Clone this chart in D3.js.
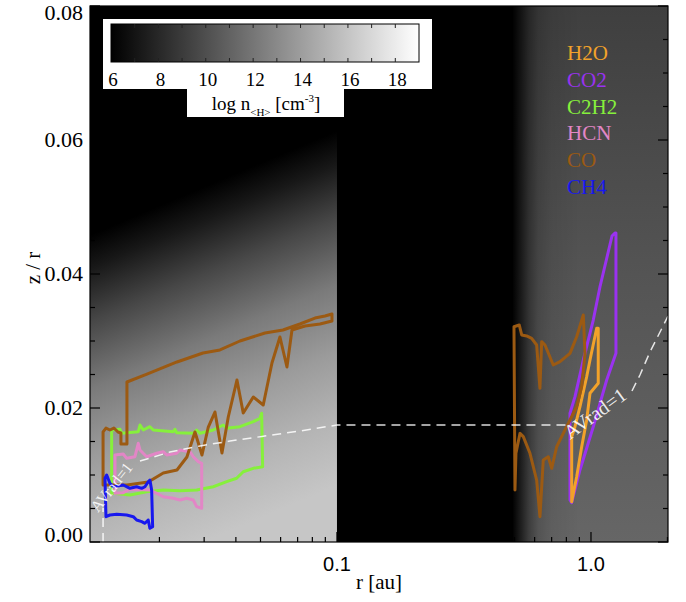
<!DOCTYPE html>
<html>
<head>
<meta charset="utf-8">
<script src="https://cdn.jsdelivr.net/npm/d3@7"></script>
<style>
  html, body { margin: 0; padding: 0; background: #fff; }
  svg { display: block; }
  text { font-family: "Liberation Serif", "Times New Roman", serif; }
</style>
</head>
<body>
<div id="chart"></div>
<script>
// ---------- data ----------
const rDomain = [0.01066, 2.01];          // r [au]
const zDomain = [0, 0.08];                // z / r
const xMajorTicks = [0.1, 1.0];
const xTickLabels = ['0.1', '1.0'];
const xMinorTicks = [0.02, 0.03, 0.04, 0.05, 0.06, 0.07, 0.08, 0.09,
                     0.2, 0.3, 0.4, 0.5, 0.6, 0.7, 0.8, 0.9, 2];
const yMajorTicks = [0, 0.02, 0.04, 0.06, 0.08];
const yTickLabels = ['0.00', '0.02', '0.04', '0.06', '0.08'];
const yMinorTicks = [0.005, 0.01, 0.015, 0.025, 0.03, 0.035, 0.045, 0.05,
                     0.055, 0.065, 0.07, 0.075];

// colour bar (log n<H>)
const cbDomain = [6, 19];
const cbLabels = [6, 8, 10, 12, 14, 16, 18];
const cbMinor = [7, 8, 9, 10, 11, 12, 13, 14, 15, 16, 17, 18];

// density map: inner disk (r < 0.1 au)
const innerEdgeR = 0.1;
const innerZ    = [0.053, 0.048, 0.04, 0.03, 0.02, 0.01, 0];
const innerLogN = [6,     7.2,   9.6,  12.2, 13.9, 15.2, 16.1];
const isoRefR = 0.03;      // r where innerZ was read
const isoSlope = 0.016;    // tilt of iso-density lines, z/r per decade of r
// density map: outer disk
const outerR    = [0.49, 0.53, 0.57, 0.62, 0.70, 0.90];
const outerFade = [0,    0.30, 0.60, 0.82, 0.93, 1];
const outerZ    = [0.08, 0.04, 0];
const outerLogN = [9.2,  10.3, 11.2];

// species
const species = ['H2O', 'CO2', 'C2H2', 'HCN', 'CO', 'CH4'];
const speciesColors = ['#f2a22a', '#9a32f0', '#86f03c', '#e286c6', '#9c5a12', '#1818ee'];

// emitting regions [r (au), z/r]
const co2Region = [[1.210, 0.04567], [1.085, 0.0381], [1.021, 0.03313], [0.9326, 0.02716],
  [0.865, 0.02169], [0.8267, 0.01921], [0.8267, 0.00627], [0.8395, 0.00587], [0.905, 0.01075],
  [1.021, 0.01721], [1.153, 0.02418], [1.254, 0.02816], [1.254, 0.04612], [1.243, 0.04612]];
const h2oRegion = [[1.053, 0.0319], [1.068, 0.0319], [1.068, 0.02369], [0.991, 0.02219],
  [0.9618, 0.01821], [0.9193, 0.01422], [0.8784, 0.00975], [0.8395, 0.00601], [0.8395, 0.01572],
  [0.865, 0.01721], [0.905, 0.02019], [0.9618, 0.02467], [0.991, 0.02716]];
const c2h2Region = [[0.01297, 0.01672], [0.01399, 0.01682], [0.0142, 0.01622], [0.01651, 0.01646],
  [0.01677, 0.01746], [0.01728, 0.01672], [0.01835, 0.01721], [0.01891, 0.01672], [0.02268, 0.01646],
  [0.02303, 0.01682], [0.02339, 0.01631], [0.02718, 0.01622], [0.02803, 0.01672], [0.02889, 0.01622],
  [0.03258, 0.01672], [0.03568, 0.01746], [0.03679, 0.01697], [0.0415, 0.01721], [0.04683, 0.01796],
  [0.04975, 0.01846], [0.05052, 0.01921], [0.05098, 0.01124], [0.04683, 0.011], [0.04276, 0.01049],
  [0.04028, 0.00951], [0.03679, 0.009], [0.03258, 0.00825], [0.02803, 0.00776], [0.02409, 0.00766],
  [0.02071, 0.00776], [0.01781, 0.00751], [0.01531, 0.00701], [0.01316, 0.00727], [0.01297, 0.00727]];
const hcnRegion = [[0.01337, 0.01299], [0.01441, 0.01313], [0.01486, 0.01249], [0.01602, 0.01273],
  [0.01651, 0.01473], [0.01677, 0.01373], [0.01781, 0.01273], [0.01951, 0.01324], [0.02071, 0.01348],
  [0.02136, 0.01299], [0.02339, 0.01324], [0.02409, 0.01373], [0.02638, 0.01348], [0.02718, 0.01273],
  [0.02844, 0.01199], [0.02934, 0.01175], [0.02934, 0.00503], [0.02803, 0.00527], [0.02718, 0.00627],
  [0.0256, 0.00652], [0.02409, 0.00627], [0.02268, 0.00652], [0.02071, 0.00676], [0.01951, 0.00727],
  [0.01835, 0.00776], [0.01531, 0.00787], [0.01441, 0.00736], [0.01337, 0.00727]];
const coInnerRegion = [[0.0120, 0.01642], [0.01232, 0.01701], [0.01277, 0.01672], [0.01324, 0.01701],
  [0.01374, 0.01642], [0.01411, 0.01627], [0.01411, 0.01463], [0.0149, 0.01463], [0.0149, 0.02388],
  [0.01786, 0.02507], [0.02345, 0.02687], [0.02969, 0.02821], [0.03462, 0.02866], [0.0415, 0.03],
  [0.05206, 0.03119], [0.06129, 0.03164], [0.0715, 0.03254], [0.0819, 0.03343], [0.0897, 0.03373],
  [0.09557, 0.03403], [0.09557, 0.03299], [0.08572, 0.03254], [0.07482, 0.03224], [0.0665, 0.03164],
  [0.06355, 0.02612], [0.05964, 0.0306], [0.05547, 0.02672], [0.05126, 0.02045], [0.04683, 0.02164],
  [0.04276, 0.01925], [0.04039, 0.02418], [0.03733, 0.01866], [0.03526, 0.01328], [0.03309, 0.0194],
  [0.03115, 0.01716], [0.02942, 0.01299], [0.0276, 0.01642], [0.02566, 0.01269], [0.02345, 0.01075],
  [0.02071, 0.0103], [0.01807, 0.00896], [0.0149, 0.00851], [0.0120, 0.00851]];
const coOuterRegion = [[0.4976, 0.03213], [0.5221, 0.03239], [0.5337, 0.0309], [0.5584, 0.03075],
  [0.5842, 0.0304], [0.6112, 0.0294], [0.6297, 0.02294], [0.6396, 0.0299], [0.659, 0.0294],
  [0.7105, 0.02642], [0.7551, 0.02691], [0.8267, 0.02816], [0.8784, 0.03064], [0.9326, 0.03388],
  [0.9471, 0.02816], [0.9193, 0.02318], [0.8784, 0.02019], [0.8267, 0.01821], [0.778, 0.01622],
  [0.7328, 0.01422], [0.7003, 0.011], [0.679, 0.01273], [0.6489, 0.01224], [0.6297, 0.00378],
  [0.6112, 0.00925], [0.5753, 0.01324], [0.5415, 0.01572], [0.5255, 0.01622], [0.5067, 0.01324],
  [0.5021, 0.00776]];
const ch4Region = [[0.01221, 0.00951], [0.0124, 0.01], [0.01277, 0.00876], [0.01316, 0.00825],
  [0.01441, 0.00851], [0.01531, 0.00801], [0.01627, 0.00825], [0.01703, 0.00801], [0.01754, 0.00825],
  [0.01807, 0.009], [0.01835, 0.00925], [0.01864, 0.00776], [0.01881, 0.00228], [0.01835, 0.00204],
  [0.01807, 0.00328], [0.01754, 0.00279], [0.01703, 0.00303], [0.01627, 0.00328], [0.01578, 0.00378],
  [0.01486, 0.00403], [0.01358, 0.00413], [0.01277, 0.00403], [0.01232, 0.00378]];

// AVrad = 1 surface (pieces between the labels)
const avradPieces = [
  [[0.0120, 0], [0.0120, 0.00507]],
  [[0.01677, 0.01209], [0.02201, 0.01343], [0.02889, 0.01433], [0.03791, 0.01507], [0.05066, 0.01575],
   [0.0715, 0.01657], [0.1, 0.01746], [0.8023, 0.01746]],
  [[1.45, 0.02254], [1.559, 0.02493], [1.707, 0.02836], [1.87, 0.03134], [2.01, 0.03373]]
];
const avradLabels = [
  { r: 0.01146, z: 0.00433, angle: -52, size: 16 },
  { r: 0.8267, z: 0.01522, angle: -36, size: 20 }
];

// ---------- drawing ----------
const W = 686, H = 602;
const plot = { left: 90, top: 6, right: 668, bottom: 542 };
const serif = '"Liberation Serif", "Times New Roman", serif';

const x = d3.scaleLog().domain(rDomain).range([plot.left, plot.right]);
const y = d3.scaleLinear().domain(zDomain).range([plot.bottom, plot.top]);
const gray = d3.scaleLinear().domain(cbDomain).range(['#000', '#fff']).clamp(true);

const svg = d3.select('#chart').append('svg').attr('width', W).attr('height', H);
const defs = svg.append('defs');

defs.append('clipPath').attr('id', 'plotClip')
  .append('rect')
    .attr('x', plot.left).attr('y', plot.top)
    .attr('width', plot.right - plot.left).attr('height', plot.bottom - plot.top);

// inner disk gradient, tilted along the iso-density lines
const x0 = x(isoRefR), yTop = y(innerZ[0]), yBot = y(0);
const kPix = (y(0) - y(isoSlope)) / (x(10) - x(1));
const nrm = Math.hypot(kPix, 1);
const nx = kPix / nrm, ny = 1 / nrm;
const L = (yBot - yTop) * ny;
const innerGrad = defs.append('linearGradient').attr('id', 'innerGrad')
  .attr('gradientUnits', 'userSpaceOnUse')
  .attr('x1', x0).attr('y1', yTop)
  .attr('x2', x0 + nx * L).attr('y2', yTop + ny * L);
innerZ.forEach((z, i) => {
  innerGrad.append('stop')
    .attr('offset', (y(z) - yTop) / (yBot - yTop))
    .attr('stop-color', gray(innerLogN[i]));
});

// outer disk: vertical gradient, faded in from the gap
const outerGrad = defs.append('linearGradient').attr('id', 'outerGrad')
  .attr('gradientUnits', 'userSpaceOnUse')
  .attr('x1', 0).attr('y1', y(outerZ[0])).attr('x2', 0).attr('y2', y(outerZ[outerZ.length - 1]));
outerZ.forEach((z, i) => {
  outerGrad.append('stop')
    .attr('offset', (y(z) - y(outerZ[0])) / (y(outerZ[outerZ.length - 1]) - y(outerZ[0])))
    .attr('stop-color', gray(outerLogN[i]));
});
const fx0 = x(outerR[0]), fx1 = x(outerR[outerR.length - 1]);
const fadeGrad = defs.append('linearGradient').attr('id', 'fadeGrad')
  .attr('gradientUnits', 'userSpaceOnUse')
  .attr('x1', fx0).attr('y1', 0).attr('x2', fx1).attr('y2', 0);
outerR.forEach((r, i) => {
  const v = Math.round(255 * outerFade[i]);
  fadeGrad.append('stop')
    .attr('offset', (x(r) - fx0) / (fx1 - fx0))
    .attr('stop-color', `rgb(${v},${v},${v})`);
});
defs.append('mask').attr('id', 'outerMask')
  .attr('maskUnits', 'userSpaceOnUse')
  .attr('x', 0).attr('y', 0).attr('width', W).attr('height', H)
  .append('rect')
    .attr('x', fx0).attr('y', plot.top)
    .attr('width', plot.right - fx0).attr('height', plot.bottom - plot.top)
    .attr('fill', 'url(#fadeGrad)');

// colour bar gradient
const cbGrad = defs.append('linearGradient').attr('id', 'cbGrad');
cbGrad.append('stop').attr('offset', 0).attr('stop-color', gray(cbDomain[0]));
cbGrad.append('stop').attr('offset', 1).attr('stop-color', gray(cbDomain[1]));

// background map
const bg = svg.append('g').attr('clip-path', 'url(#plotClip)');
bg.append('rect')
  .attr('x', plot.left).attr('y', plot.top)
  .attr('width', plot.right - plot.left).attr('height', plot.bottom - plot.top)
  .attr('fill', '#000');
bg.append('rect')
  .attr('x', x(rDomain[0])).attr('y', y(zDomain[1]))
  .attr('width', x(innerEdgeR) - x(rDomain[0])).attr('height', y(0) - y(zDomain[1]))
  .attr('fill', 'url(#innerGrad)');
bg.append('rect')
  .attr('x', fx0).attr('y', y(zDomain[1]))
  .attr('width', x(rDomain[1]) - fx0).attr('height', y(0) - y(zDomain[1]))
  .attr('fill', 'url(#outerGrad)')
  .attr('mask', 'url(#outerMask)');

// emitting regions
const line = d3.line().x(d => x(d[0])).y(d => y(d[1]));
const regions = [
  { pts: co2Region, c: speciesColors[1] },
  { pts: h2oRegion, c: speciesColors[0] },
  { pts: c2h2Region, c: speciesColors[2] },
  { pts: hcnRegion, c: speciesColors[3] },
  { pts: coInnerRegion, c: speciesColors[4] },
  { pts: coOuterRegion, c: speciesColors[4] },
  { pts: ch4Region, c: speciesColors[5] }
];
const gReg = svg.append('g').attr('clip-path', 'url(#plotClip)');
gReg.selectAll('path.region')
  .data(regions)
  .enter().append('path')
    .attr('class', 'region')
    .attr('d', d => line(d.pts) + 'Z')
    .attr('fill', 'none')
    .attr('stroke', d => d.c)
    .attr('stroke-width', 3)
    .attr('stroke-linejoin', 'round');

// AVrad = 1
gReg.selectAll('path.avrad')
  .data(avradPieces)
  .enter().append('path')
    .attr('class', 'avrad')
    .attr('d', d => line(d))
    .attr('fill', 'none')
    .attr('stroke', '#fff')
    .attr('stroke-opacity', 0.85)
    .attr('stroke-width', 1.5)
    .attr('stroke-dasharray', '9,6');
gReg.selectAll('text.avlab')
  .data(avradLabels)
  .enter().append('text')
    .attr('class', 'avlab')
    .attr('transform', d => `translate(${x(d.r)},${y(d.z)}) rotate(${d.angle})`)
    .attr('font-size', d => d.size)
    .style('font-family', serif)
    .attr('fill', '#fff')
    .attr('fill-opacity', 0.9)
    .text('AVrad=1');

// frame and ticks
const axes = svg.append('g').attr('stroke', '#000').attr('stroke-width', 1.2);
axes.append('rect')
  .attr('x', plot.left).attr('y', plot.top)
  .attr('width', plot.right - plot.left).attr('height', plot.bottom - plot.top)
  .attr('fill', 'none');
const yTicks = yMajorTicks.map(v => ({ v, len: 10 })).concat(yMinorTicks.map(v => ({ v, len: 5 })));
axes.selectAll('line.yl').data(yTicks).enter().append('line')
  .attr('x1', plot.left).attr('x2', d => plot.left + d.len)
  .attr('y1', d => y(d.v)).attr('y2', d => y(d.v));
axes.selectAll('line.yr').data(yTicks).enter().append('line')
  .attr('x1', plot.right).attr('x2', d => plot.right - d.len)
  .attr('y1', d => y(d.v)).attr('y2', d => y(d.v));
const xTicks = xMajorTicks.map(v => ({ v, len: 10 })).concat(xMinorTicks.map(v => ({ v, len: 5 })));
axes.selectAll('line.xb').data(xTicks).enter().append('line')
  .attr('x1', d => x(d.v)).attr('x2', d => x(d.v))
  .attr('y1', plot.bottom).attr('y2', d => plot.bottom - d.len);

// tick labels
svg.append('g').selectAll('text')
  .data(yMajorTicks)
  .enter().append('text')
    .attr('x', 83)
    .attr('y', d => Math.min(Math.max(y(d) + 7, plot.top + 14), plot.bottom))
    .attr('text-anchor', 'end')
    .attr('font-size', 22)
    .style('font-family', serif)
    .style('font-weight', 'normal')
    .text((d, i) => yTickLabels[i]);
svg.append('g').selectAll('text')
  .data(xMajorTicks)
  .enter().append('text')
    .attr('x', d => x(d))
    .attr('y', 571)
    .attr('text-anchor', 'middle')
    .attr('font-size', 20)
    .style('font-family', '"Liberation Sans", Arial, sans-serif')
    .text((d, i) => xTickLabels[i]);
svg.append('text')
  .attr('x', (plot.left + plot.right) / 2).attr('y', 589)
  .attr('text-anchor', 'middle').attr('font-size', 21)
  .style('font-family', serif)
  .text('r [au]');
svg.append('text')
  .attr('transform', `translate(40,${(plot.top + plot.bottom) / 2 - 6}) rotate(-90)`)
  .attr('text-anchor', 'middle').attr('font-size', 21)
  .style('font-family', serif)
  .text('z / r');

// legend
svg.append('g').selectAll('text')
  .data(species)
  .enter().append('text')
    .attr('x', 567)
    .attr('y', (d, i) => 60 + i * 26.8)
    .attr('font-size', 21)
    .style('font-family', serif)
    .attr('fill', (d, i) => speciesColors[i])
    .text(d => d);

// colour bar
const cbX = d3.scaleLinear().domain(cbDomain).range([111, 419]);
const cb = svg.append('g');
cb.append('path')
  .attr('d', 'M103,19H432V89H344V117H187V89H103Z')
  .attr('fill', '#fff');
cb.append('rect')
  .attr('x', cbX(cbDomain[0])).attr('y', 24)
  .attr('width', cbX(cbDomain[1]) - cbX(cbDomain[0])).attr('height', 38)
  .attr('fill', 'url(#cbGrad)')
  .attr('stroke', '#000').attr('stroke-width', 1);
cb.selectAll('line.cbt').data(cbMinor).enter().append('line')
  .attr('x1', d => cbX(d)).attr('x2', d => cbX(d))
  .attr('y1', 24).attr('y2', 28)
  .attr('stroke', '#222');
cb.selectAll('line.cbb').data(cbMinor).enter().append('line')
  .attr('x1', d => cbX(d)).attr('x2', d => cbX(d))
  .attr('y1', 62).attr('y2', 58)
  .attr('stroke', '#222');
cb.selectAll('text.cbl').data(cbLabels).enter().append('text')
  .attr('x', d => cbX(d) + 2).attr('y', 86)
  .attr('text-anchor', 'middle').attr('font-size', 19)
  .style('font-family', serif)
  .text(d => d);
const cbTitle = cb.append('text')
  .attr('x', 266).attr('y', 110)
  .attr('text-anchor', 'middle').attr('font-size', 19)
  .style('font-family', serif);
cbTitle.append('tspan').text('log n');
cbTitle.append('tspan').attr('font-size', 11).attr('dy', 6).text('<H>');
cbTitle.append('tspan').attr('dy', -6).text(' [cm');
cbTitle.append('tspan').attr('font-size', 11).attr('dy', -8).text('-3');
cbTitle.append('tspan').attr('dy', 8).text(']');
</script>
</body>
</html>
